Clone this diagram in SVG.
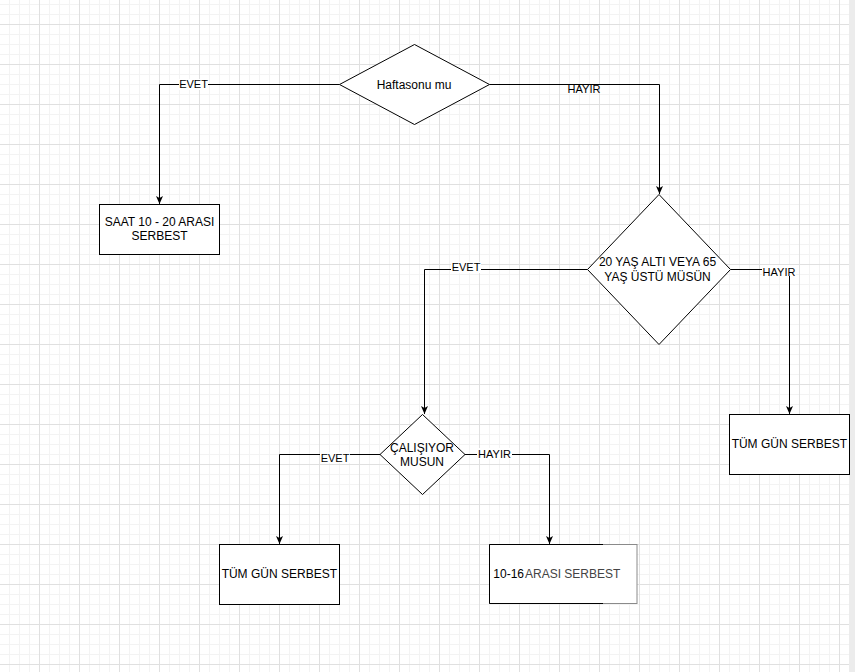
<svg xmlns="http://www.w3.org/2000/svg" width="855" height="672" viewBox="0 0 855 672">
<style>
.shape{fill:#ffffff;stroke:#000000;stroke-width:1}
.edge{fill:none;stroke:#000000;stroke-width:1}
.t{font-family:"Liberation Sans",Arial,sans-serif;font-size:12px;fill:#000000}
.lbl{font-family:"Liberation Sans",Arial,sans-serif;font-size:11px;fill:#000000}
.lblbg{fill:#ffffff;stroke:none}
</style>
<defs>
<pattern id="grid" x="0" y="0" width="40" height="40" patternUnits="userSpaceOnUse">
<path d="M9.5,0V40M19.5,0V40M29.5,0V40M0,4.5H40M0,14.5H40M0,34.5H40" stroke="#f3f3f3" stroke-width="1" fill="none"/>
<path d="M39.5,0V40M0,24.5H40" stroke="#e0e0e0" stroke-width="1" fill="none"/>
</pattern>
<marker id="arrow" viewBox="0 0 8 8" refX="8" refY="4" markerWidth="8" markerHeight="8" markerUnits="userSpaceOnUse" orient="auto">
<path d="M0,0.5 L8,4 L0,7.5 L2,4 Z" fill="#000000"/>
</marker>
</defs>
<rect x="0" y="0" width="855" height="672" fill="#ffffff"/>
<rect x="0" y="0" width="855" height="672" fill="url(#grid)"/>
<rect x="849" y="0" width="6" height="672" fill="#ececec"/>

<g id="connectors">
<path class="edge" d="M339.5,84.5 H159.5 V204" marker-end="url(#arrow)"/>
<path class="edge" d="M489.5,84.5 H659.5 V194" marker-end="url(#arrow)"/>
<path class="edge" d="M587.5,269.5 H424.5 V414" marker-end="url(#arrow)"/>
<path class="edge" d="M730.5,269.5 H789.5 V414" marker-end="url(#arrow)"/>
<path class="edge" d="M380,454.5 H279.5 V544" marker-end="url(#arrow)"/>
<path class="edge" d="M465,454.5 H549.5 V544" marker-end="url(#arrow)"/>
<rect class="lblbg" x="179" y="79" width="29" height="11"/>
<text class="lbl" x="193.5" y="88" text-anchor="middle">EVET</text>
<rect class="lblbg" x="567" y="85" width="35" height="1"/>
<text class="lbl" x="584" y="92.5" text-anchor="middle">HAYIR</text>
<rect class="lblbg" x="451" y="262" width="30" height="11"/>
<text class="lbl" x="466" y="270.7" text-anchor="middle">EVET</text>
<rect class="lblbg" x="762" y="265" width="34" height="11"/>
<text class="lbl" x="779" y="275.7" text-anchor="middle">HAYIR</text>
<rect class="lblbg" x="320" y="452" width="30" height="11"/>
<text class="lbl" x="335" y="462.3" text-anchor="middle">EVET</text>
<rect class="lblbg" x="477" y="448" width="35" height="11"/>
<text class="lbl" x="494.5" y="457.7" text-anchor="middle">HAYIR</text>
</g>

<g id="node-haftasonu">
<polygon class="shape" points="414.5,44.5 489.5,84.5 414.5,124.5 339.5,84.5"/>
<text class="t" x="414" y="88.7" text-anchor="middle">Haftasonu mu</text>
</g>

<g id="node-saat">
<rect class="shape" x="99.5" y="204.5" width="120" height="50"/>
<text class="t" x="159.5" y="226" text-anchor="middle">SAAT 10 - 20 ARASI</text>
<text class="t" x="159.5" y="240.3" text-anchor="middle">SERBEST</text>
</g>

<g id="node-yas">
<polygon class="shape" points="659,194.5 730.5,269.5 659,344.5 587.5,269.5"/>
<text class="t" x="657.5" y="266" text-anchor="middle">20 YAŞ ALTI VEYA 65</text>
<text class="t" x="657.5" y="280.7" text-anchor="middle">YAŞ ÜSTÜ MÜSÜN</text>
</g>

<g id="node-tumgun-right">
<rect class="shape" x="729.5" y="414.5" width="120" height="60"/>
<text class="t" x="789.3" y="448.3" text-anchor="middle">TÜM GÜN SERBEST</text>
</g>

<g id="node-calisiyor">
<polygon class="shape" points="422.5,414.5 465,454.5 422.5,494.5 380,454.5"/>
<text class="t" x="422" y="451.7" text-anchor="middle">ÇALIŞIYOR</text>
<text class="t" x="422" y="465.7" text-anchor="middle">MUSUN</text>
</g>

<g id="node-tumgun-left">
<rect class="shape" x="219.5" y="544.5" width="120" height="60"/>
<text class="t" x="279.3" y="578.3" text-anchor="middle">TÜM GÜN SERBEST</text>
</g>

<g id="node-1016">
<rect x="489.5" y="544.5" width="147.5" height="59" fill="#ffffff" stroke="#8a8a8a" stroke-width="1"/>
<path d="M603,544.5 H489.5 V603.5 H603" fill="none" stroke="#000000" stroke-width="1"/>
<text class="t" x="493.3" y="578.3">10-16</text>
<text class="t" x="525" y="578.3" fill="#444444" style="fill:#444444">ARASI SERBEST</text>
</g>
</svg>
